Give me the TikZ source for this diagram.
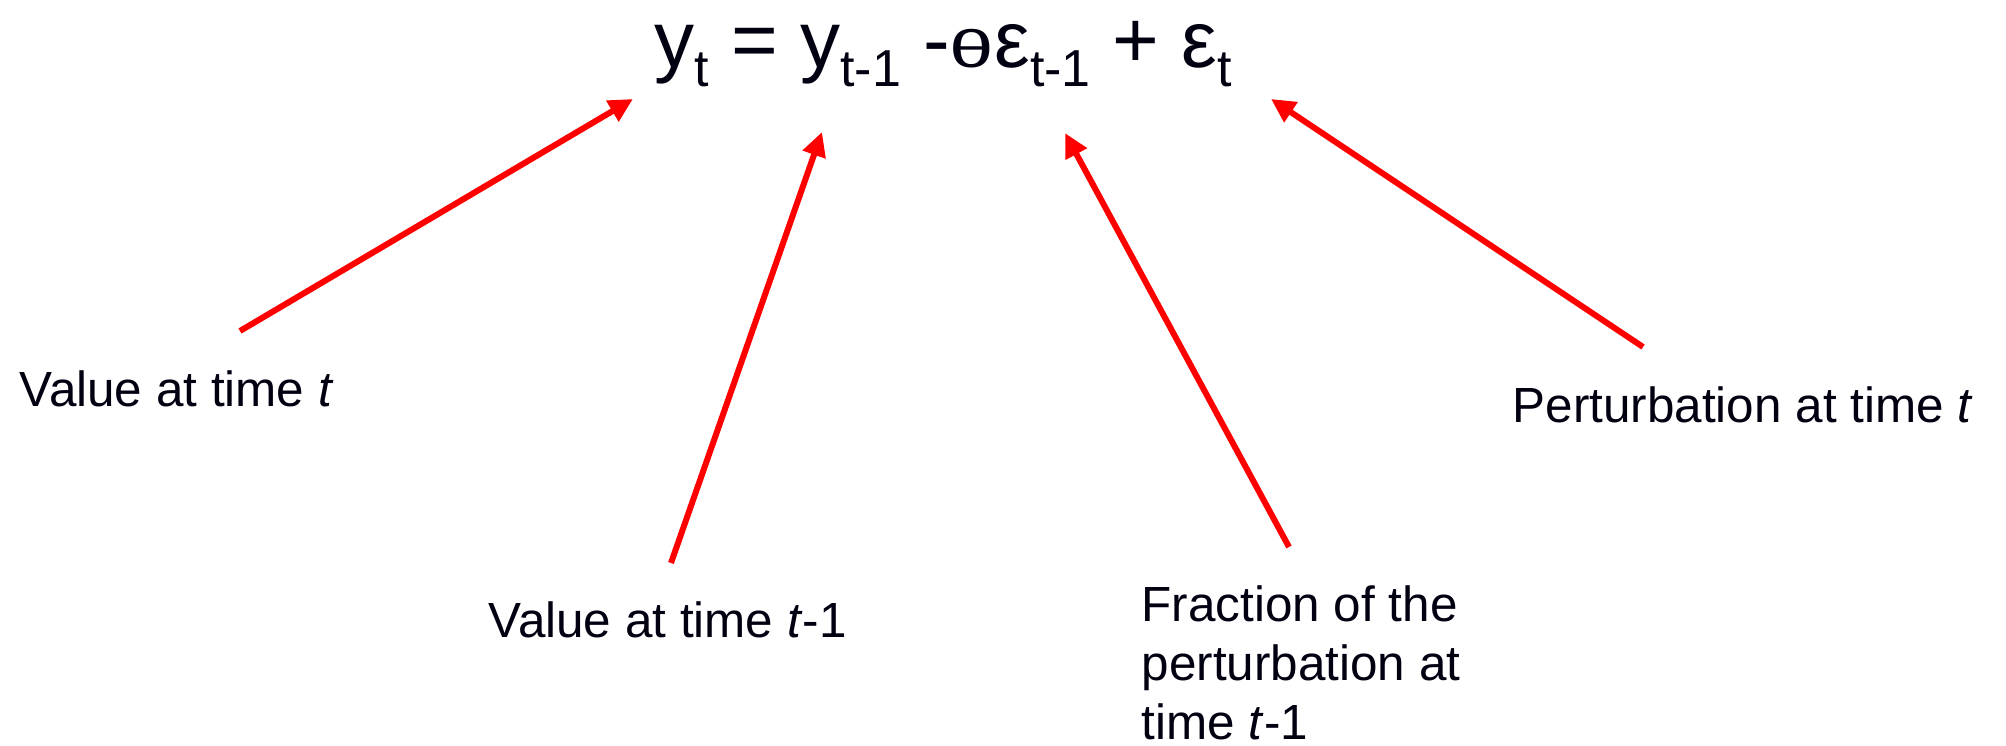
\documentclass[tikz,border=0pt]{standalone}
\usepackage{fontspec}
\setmainfont{Liberation Sans}
\usepackage{graphicx}
\usetikzlibrary{arrows.meta,positioning}
\definecolor{arrowred}{RGB}{255,0,0}
\definecolor{ink}{RGB}{0,0,16}
\newcommand{\lowsub}[1]{\raisebox{-5.4pt}{\fontsize{14.8}{16}\selectfont #1}}

\begin{document}
\begin{tikzpicture}[
  eqn/.style={inner sep=0, anchor=base west, text=ink,
    font=\fontsize{22.76}{27}\selectfont},
  lbl/.style={inner sep=0, anchor=base west, align=left, text=ink,
    font=\fontsize{14.06}{16.8}\selectfont},
  arrow/.style={draw=arrowred, line width=0.6mm,
    -{Triangle[length=2.4mm, width=2.3mm]}}
]
\useasboundingbox (0,0) rectangle (20.06,-7.46);

\node[eqn] (model) at (6.54,-0.68) {y\lowsub{t} = y\lowsub{t-1} -\scalebox{1}[0.66]{θ}ε\lowsub{t-1} + ε\lowsub{t}};

\node[lbl] (valnow) at (0.19,-4.07) {Value at time \textit{t}};
\node[lbl] (valprev) at (4.88,-6.38) {Value at time \textit{t}-1};
% base of a multi-line node is its last line
\node[lbl] (frac) at (11.41,-7.40) {Fraction of the\\perturbation at\\time \textit{t}-1};
\node[lbl] (pert) at (15.12,-4.23) {Perturbation at time \textit{t}};

\coordinate (valnowtail) at (2.40,-3.31);
\coordinate (valnowhead) at (6.33,-0.99);
\coordinate (valprevtail) at (6.71,-5.63);
\coordinate (valprevhead) at (8.22,-1.32);
\coordinate (fractail) at (12.89,-5.47);
\coordinate (frachead) at (10.65,-1.33);
\coordinate (perttail) at (16.43,-3.47);
\coordinate (perthead) at (12.71,-0.99);

\draw[arrow] (valnowtail) -- (valnowhead);
\draw[arrow] (valprevtail) -- (valprevhead);
\draw[arrow] (fractail) -- (frachead);
\draw[arrow] (perttail) -- (perthead);
\end{tikzpicture}
\end{document}
